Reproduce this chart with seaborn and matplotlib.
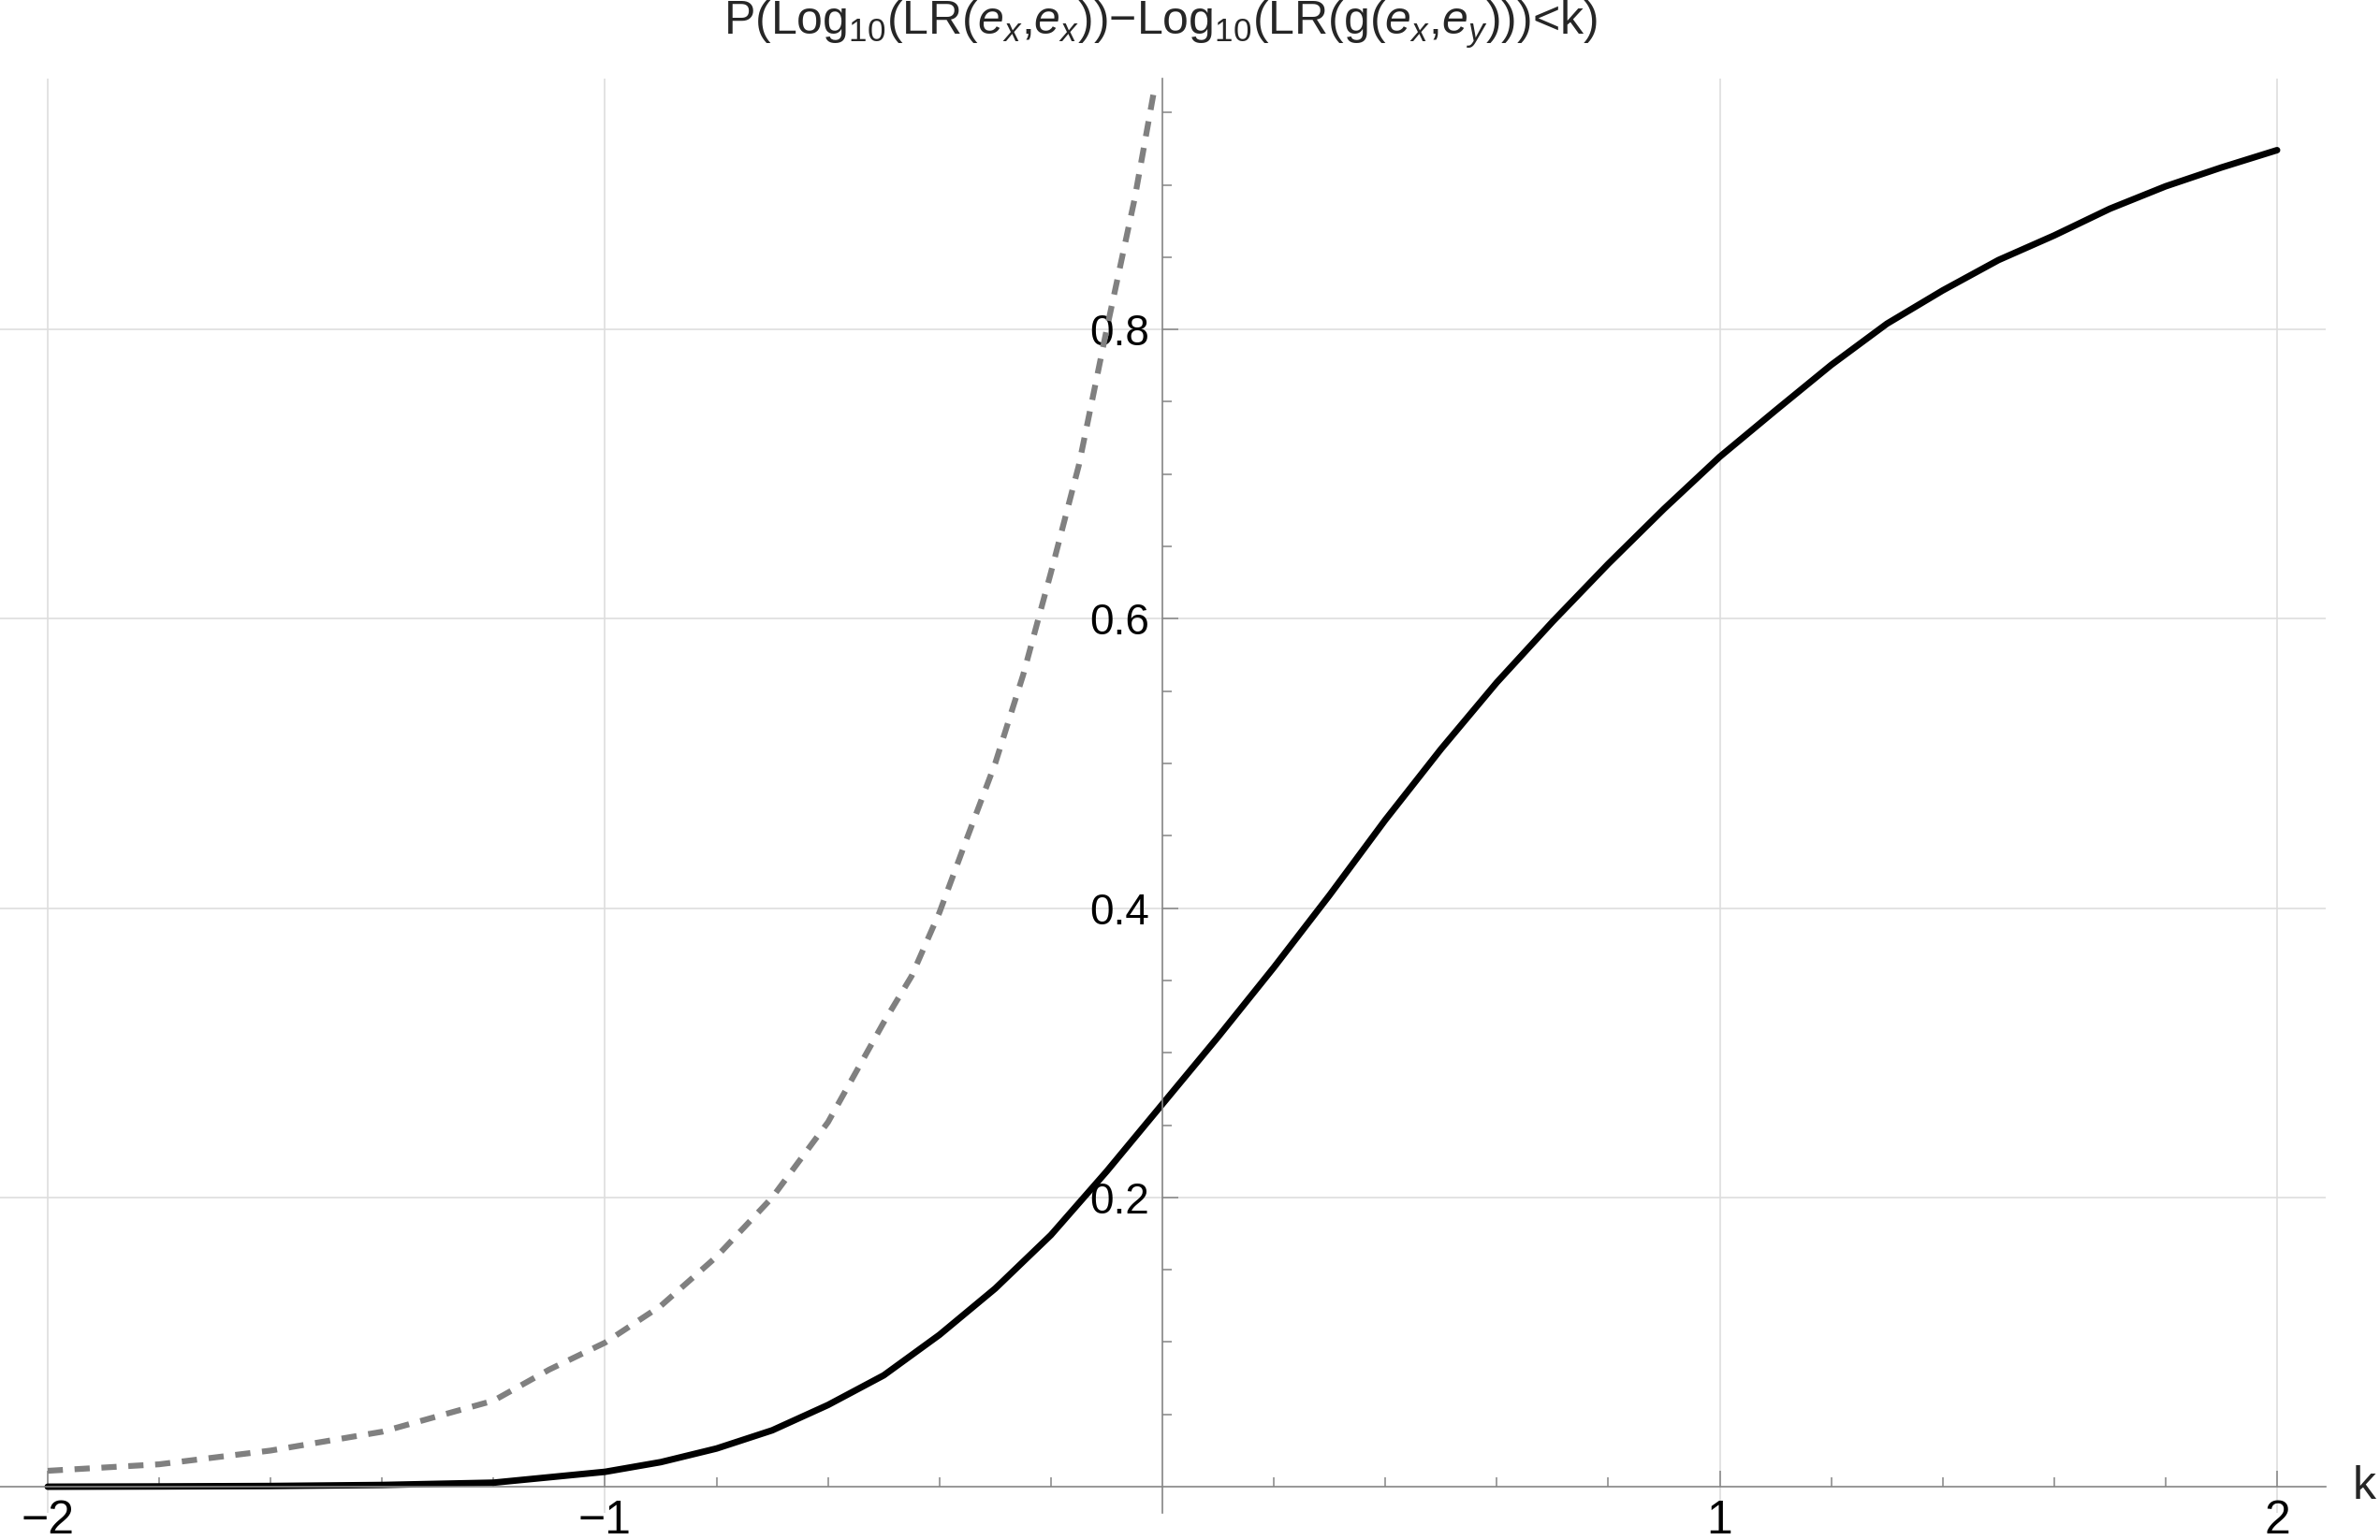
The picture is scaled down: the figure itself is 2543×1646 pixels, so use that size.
import numpy as np
import pandas as pd
import matplotlib
matplotlib.use("Agg")
import matplotlib.pyplot as plt
import seaborn as sns

# values
k_solid = [-2.0, -1.8, -1.6, -1.4, -1.2, -1.0, -0.9, -0.8, -0.7, -0.6, -0.5, -0.4,
           -0.3, -0.2, -0.1, 0.0, 0.1, 0.2, 0.3, 0.4, 0.5, 0.6, 0.7, 0.8, 0.9,
           1.0, 1.1, 1.2, 1.3, 1.4, 1.5, 1.6, 1.7, 1.8, 1.9, 2.0]
p_solid = [0.0, 0.0002, 0.0005, 0.0012, 0.0028, 0.0103, 0.017, 0.0264, 0.039, 0.0565,
           0.077, 0.105, 0.137, 0.174, 0.218, 0.2645, 0.311, 0.359, 0.409, 0.461,
           0.510, 0.556, 0.598, 0.638, 0.676, 0.712, 0.744, 0.7755, 0.804, 0.827,
           0.848, 0.865, 0.8835, 0.899, 0.912, 0.924]

k_dashed = [-2.0, -1.8, -1.6, -1.4, -1.2, -1.1, -1.0, -0.9, -0.8, -0.7, -0.6, -0.5,
            -0.45, -0.4, -0.35, -0.3, -0.25, -0.2, -0.15, -0.1, -0.05, -0.015]
p_dashed = [0.011, 0.0155, 0.025, 0.038, 0.0595, 0.081, 0.0996, 0.125, 0.159, 0.2,
            0.252, 0.321, 0.353, 0.397, 0.449, 0.5, 0.561, 0.632, 0.706, 0.8, 0.89, 0.965]

x_major = [-2, -1, 1, 2]
x_labels = ["\u22122", "\u22121", "1", "2"]
y_major = [0.2, 0.4, 0.6, 0.8]
y_labels = ["0.2", "0.4", "0.6", "0.8"]

title = (r"P(Log$_{10}$(LR($e_x$,$e_x$))" "\u2212"
         r"Log$_{10}$(LR(g($e_x$,$e_y$)))<k)")

sns.set_theme(style="white")
plt.rcParams['font.family'] = ['Liberation Sans', 'DejaVu Sans']
plt.rcParams['mathtext.fontset'] = 'custom'
plt.rcParams['mathtext.rm'] = 'Liberation Sans'
plt.rcParams['mathtext.it'] = 'Liberation Sans:italic'

axis_col = '#858585'
grid_col = '#dedede'

fig = plt.figure(figsize=(25.43, 16.46), dpi=100)
ax = fig.add_axes([0.0, 0.0176, 0.9772, 0.9314])

solid = pd.DataFrame({'k': k_solid, 'p': p_solid})
dashed = pd.DataFrame({'k': k_dashed, 'p': p_dashed})

sns.lineplot(data=dashed, x='k', y='p', ax=ax, color='#808080', lw=4.5, sort=False)
ax.lines[-1].set_dashes((2.6, 2.0))
ax.lines[-1].set_dash_capstyle('butt')
sns.lineplot(data=solid, x='k', y='p', ax=ax, color='black', lw=5.0, sort=False)

ax.set_xlim(-2.0856, 2.0873)
ax.set_ylim(-0.0181, 0.9735)

for s in ['top', 'right']:
    ax.spines[s].set_visible(False)
ax.spines['left'].set_position(('data', 0))
ax.spines['bottom'].set_position(('data', 0))
for s in ['left', 'bottom']:
    ax.spines[s].set_color(axis_col)
    ax.spines[s].set_linewidth(1.2)

ax.set_xticks(x_major)
ax.set_xticklabels(x_labels)
ax.set_xticks([v / 10 for v in range(-20, 21, 2) if v % 10 != 0], minor=True)
ax.set_yticks(y_major)
ax.set_yticklabels(y_labels)
ax.set_yticks([0.05, 0.1, 0.15, 0.25, 0.3, 0.35, 0.45, 0.5, 0.55, 0.65, 0.7, 0.75,
               0.85, 0.9, 0.95], minor=True)

ax.tick_params(which='both', bottom=True, left=True, direction='in', color=axis_col,
               width=1.1, labelcolor='black', pad=10)
ax.tick_params(axis='y', labelsize=33)
ax.tick_params(axis='x', labelsize=36)
ax.tick_params(which='major', length=12)
ax.tick_params(which='minor', length=7)

ax.grid(True, which='major', color=grid_col, lw=1.2)
ax.set_axisbelow(True)
ax.set_xlabel('')
ax.set_ylabel('')

fig.text(2514 / 2543, 1 - 1589 / 1646, 'k', fontsize=36, ha='left', va='center')
fig.text(1240 / 2543, 1 - 26 / 1646, title, fontsize=36, ha='center', va='center')

fig.savefig('out.png', dpi=100, facecolor='white')
